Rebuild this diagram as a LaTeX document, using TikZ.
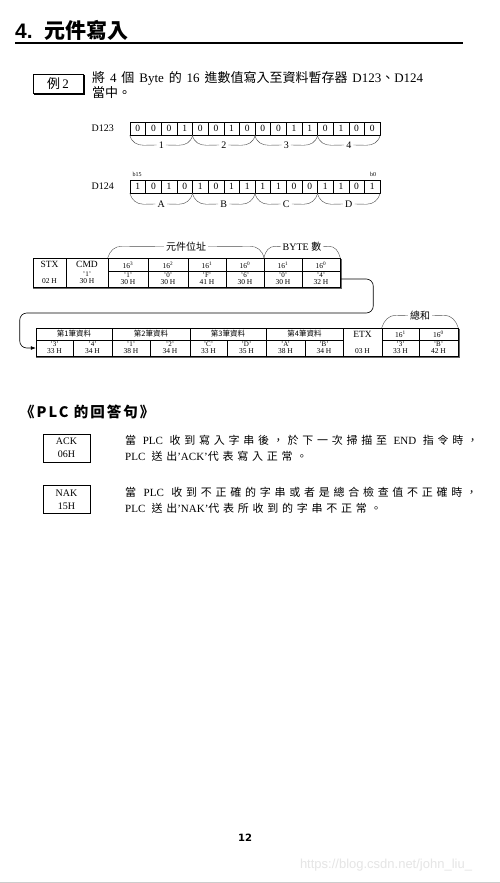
\documentclass[tikz,border=0pt]{standalone}
\usepackage{fontspec}
\setmainfont{Liberation Serif}
\newfontfamily\cjk{Noto Sans CJK TC}
\newfontfamily\cjksp[LetterSpace=34]{Noto Sans CJK TC}
\newfontfamily\cjkls[LetterSpace=14]{Noto Sans CJK TC}
\newfontfamily\hsans{Liberation Sans}
\newfontfamily\pgsans{DejaVu Sans}
\newcommand\lat[1]{{\rmfamily #1}}
\usetikzlibrary{calc,arrows.meta}
\begin{document}
\begin{tikzpicture}[x=1pt,y=-1pt,
  bit/.style={draw, line width=0.5pt, minimum width=15.625pt, minimum height=13pt, inner sep=0pt, font=\fontsize{9.5}{9.5}\selectfont},
  lbl/.style={inner sep=2pt, font=\fontsize{10}{10}\selectfont},
  cell/.style={draw, line width=0.5pt, inner sep=0pt},
  tb/.style={inner sep=0pt, font=\fontsize{9.5}{9.5}\selectfont},
  ts/.style={inner sep=0pt, font=\fontsize{7.5}{7.5}\selectfont},
  tq/.style={inner sep=0pt, font=\fontsize{7}{7}\selectfont},
  brace/.style={line width=0.4pt, black!70},
  conn/.style={line width=0.6pt, rounded corners=7, -{Latex[length=5pt,width=4pt]}},
  para/.style={anchor=west, inner sep=0pt, font=\cjksp\fontsize{11}{11}\selectfont},
  rbox/.style={draw, line width=0.6pt, minimum width=47pt, minimum height=28pt, inner sep=0pt, align=center, font=\fontsize{10}{13}\selectfont}
]
\useasboundingbox (0,0) rectangle (500,883);
\fill[white] (0,0) rectangle (500,883);

% title
\node[anchor=base west, inner sep=0pt, font=\hsans\bfseries\fontsize{21}{21}\selectfont] (t4) at (15,38) {4.};
\node[anchor=base west, inner sep=0pt, font=\cjk\bfseries\fontsize{21}{21}\selectfont] (tt) at (44,38) {元件寫入};
\draw[line width=1.6pt] (15,43) -- (463,43);

% example box
\node[draw, line width=0.8pt, minimum width=50pt, minimum height=19pt, inner sep=0pt, font=\fontsize{13}{13}\selectfont] (ex) at (58,83.5) {{\cjk 例}\,2};
\draw[line width=1.4pt] ($(ex.north east)+(0.4,1)$) -- ($(ex.south east)+(0.4,0.4)$) -- ($(ex.south west)+(1,0.4)$);
\node[anchor=west, inner sep=0pt, font=\fontsize{13}{13}\selectfont] (desc1) at (92,78) {\makebox[331pt][s]{{\cjk 將} 4 {\cjk 個} Byte {\cjk 的} 16 {\cjk 進數值寫入至資料暫存器} D123{\cjk 、}D124}};
\node[anchor=west, inner sep=0pt, font=\cjk\fontsize{13}{13}\selectfont] (desc2) at (92,93) {當中。};

% D123
\node[lbl, anchor=east] (d123) at (116,128.5) {D123};
\foreach \b [count=\i] in {0,0,0,1,0,0,1,0,0,0,1,1,0,1,0,0}
  \node[bit] (a\i) at ({130+15.625*(\i-0.5)},128.5) {\b};
\foreach \t [count=\k] in {1,2,3,4} {
  \node[lbl] (g\k) at ({130+62.5*(\k-0.5)},145) {\t};
  \pgfmathtruncatemacro{\s}{4*\k-3}
  \pgfmathtruncatemacro{\e}{4*\k}
  \draw[brace] (a\s.south west) .. controls +(2,7) and +(-7,0) .. ++(14,10) -- (g\k.west);
  \draw[brace] (g\k.east) -- ($(a\e.south east)+(-14,10)$) .. controls +(7,0) and +(-2,7) .. (a\e.south east);
}

% D124
\node[inner sep=0pt, font=\fontsize{6}{6}\selectfont] (b15) at (137,174) {b15};
\node[inner sep=0pt, font=\fontsize{6}{6}\selectfont] (b0) at (373,174) {b0};
\node[lbl, anchor=east] (d124) at (116,186.5) {D124};
\foreach \b [count=\i] in {1,0,1,0,1,0,1,1,1,1,0,0,1,1,0,1}
  \node[bit] (c\i) at ({130+15.625*(\i-0.5)},186.5) {\b};
\foreach \t [count=\k] in {A,B,C,D} {
  \node[lbl] (h\k) at ({130+62.5*(\k-0.5)},204) {\t};
  \pgfmathtruncatemacro{\s}{4*\k-3}
  \pgfmathtruncatemacro{\e}{4*\k}
  \draw[brace] (c\s.south west) .. controls +(2,7) and +(-7,0) .. ++(14,11) -- (h\k.west);
  \draw[brace] (h\k.east) -- ($(c\e.south east)+(-14,11)$) .. controls +(7,0) and +(-2,7) .. (c\e.south east);
}

% table 1
\node[cell, minimum width=33pt, minimum height=29pt] (stx) at (49.5,272.5) {};
\node[tb] (stxA) at (49.5,264) {STX};
\node[ts] (stxB) at (49.5,281.5) {02 H};
\node[cell, minimum width=42pt, minimum height=29pt] (cmd) at (87,272.5) {};
\node[tb] (cmdA) at (87,264) {CMD};
\node[tq] (cmdQ) at (87,274) {'1'};
\node[ts] (cmdB) at (87,281.5) {30 H};
\foreach \cx/\w/\p/\q/\h [count=\i] in {128/40/3/1/30,168/40/2/0/30,207/38/1/F/41,245/38/0/6/30,283/38/1/0/30,321/38/0/4/32} {
  \node[cell, minimum width=\w pt, minimum height=13pt] (hu\i) at (\cx,264.5) {};
  \node[ts] (hp\i) at (\cx,265) {16\textsuperscript{\p}};
  \node[cell, minimum width=\w pt, minimum height=16pt] (hl\i) at (\cx,279) {};
  \node[tq] (hq\i) at (\cx,275.5) {'\q'};
  \node[ts] (hh\i) at (\cx,282.5) {\h\ H};
}
\draw[line width=1pt, black!60] ($(stx.south west)+(0.5,0.8)$) -- ($(hl6.south east)+(0.8,0.8)$) -- ($(hu6.north east)+(0.8,1)$);
\node[lbl, font=\cjk\fontsize{10}{10}\selectfont] (addr) at (186,246.5) {元件位址};
\draw[brace] (hu1.north west) .. controls +(2,-7) and +(-7,0) .. ++(14,-11.5) -- (addr.west);
\draw[brace] (addr.east) -- ($(hu4.north east)+(-14,-11.5)$) .. controls +(7,0) and +(-2,-7) .. (hu4.north east);
\node[lbl, inner sep=1.5pt, font=\fontsize{10}{10}\selectfont] (bytes) at (302,246.5) {BYTE {\cjk 數}};
\draw[brace] (hu5.north west) .. controls +(2,-7) and +(-7,0) .. ++(12,-11.5) -- (bytes.west);
\draw[brace] (bytes.east) -- ($(hu6.north east)+(-12,-11.5)$) .. controls +(7,0) and +(-2,-7) .. (hu6.north east);

% table 2
\foreach \cx/\w/\t [count=\i] in {74/76/第1筆資料,151/78/第2筆資料,228/76/第3筆資料,304.5/77/第4筆資料} {
  \node[cell, minimum width=\w pt, minimum height=12pt, font=\cjk\fontsize{7.5}{7.5}\selectfont] (top\i) at (\cx,334) {\t};
}
\node[cell, minimum width=39pt, minimum height=28pt] (etx) at (362.5,342) {};
\node[tb] (etxA) at (362.5,334.5) {ETX};
\node[ts] (etxB) at (362.5,351.5) {03 H};
\node[cell, minimum width=37pt, minimum height=12pt] (s1) at (400.5,334) {};
\node[ts] (s1t) at (400.5,334.5) {16\textsuperscript{1}};
\node[cell, minimum width=39pt, minimum height=12pt] (s2) at (438.5,334) {};
\node[ts] (s2t) at (438.5,334.5) {16\textsuperscript{0}};
\foreach \cx/\w/\q/\h [count=\i] in {54.5/37/3/33,92.5/39/4/34,131/38/1/38,170/40/2/34,208.5/37/C/33,246.5/39/D/35,285.5/39/A/38,324/38/B/34,400.5/37/3/33,438.5/39/B/42} {
  \node[cell, minimum width=\w pt, minimum height=16pt] (b\i) at (\cx,348) {};
  \node[tq] (bq\i) at (\cx,344) {'\q'};
  \node[ts] (bh\i) at (\cx,351.5) {\h\ H};
}
\draw[line width=1pt, black!60] ($(b1.south west)+(0.5,0.8)$) -- ($(b10.south east)+(0.8,0.8)$) -- ($(s2.north east)+(0.8,1)$);
\node[lbl, font=\cjk\fontsize{10}{10}\selectfont] (sum) at (420,315.5) {總和};
\draw[brace] (s1.north west) .. controls +(2,-7) and +(-7,0) .. ++(14,-12.5) -- (sum.west);
\draw[brace] (sum.east) -- ($(s2.north east)+(-14,-12.5)$) .. controls +(7,0) and +(-2,-7) .. (s2.north east);

% connector
\draw[conn] (hl6.east) -- ++(33,0) -- ++(0,34) -| ($(b1.west)+(-16,0)$) -- (b1.west);

% reply section
\node[anchor=west, inner sep=0pt, font=\cjkls\bfseries\fontsize{14.5}{14.5}\selectfont] (plc) at (20,412) {《PLC 的回答句》};
\node[rbox] (ack) at (66.5,448) {ACK\\06H};
\node[rbox] (nak) at (66.5,499.5) {NAK\\15H};
\node[para] (ack1) at (125,440) {\makebox[353pt][s]{當 \lat{PLC} 收到寫入字串後，於下一次掃描至 \lat{END} 指令時，}};
\node[para] (ack2) at (125,456) {\lat{PLC} 送出\lat{'ACK'}代表寫入正常。};
\node[para] (nak1) at (125,492) {\makebox[352pt][s]{當 \lat{PLC} 收到不正確的字串或者是總合檢查值不正確時，}};
\node[para] (nak2) at (125,508) {\lat{PLC} 送出\lat{'NAK'}代表所收到的字串不正常。};

% footer
\node[inner sep=0pt, font=\pgsans\bfseries\fontsize{10}{10}\selectfont] (pg) at (245,838) {12};
\node[inner sep=0pt, text=black!10, font=\hsans\fontsize{13}{13}\selectfont] (wm) at (386,865) {https://blog.csdn.net/john\_liu\_};
\draw[black!20, line width=1pt] (0,882.5) -- (500,882.5);
\end{tikzpicture}
\end{document}
